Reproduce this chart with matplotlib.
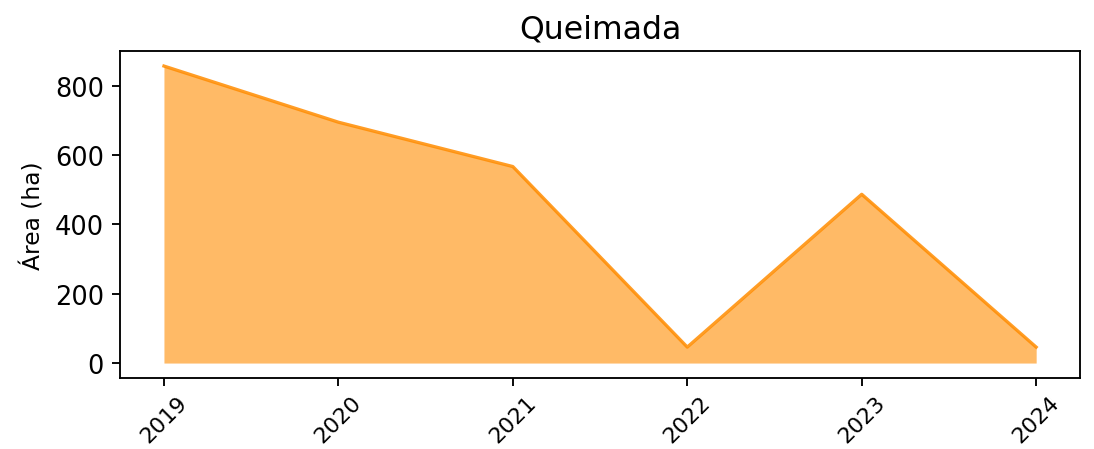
import matplotlib.pyplot as plt

# Burned area per year
anos = [2019, 2020, 2021, 2022, 2023, 2024]
area = [857, 695, 567, 46, 487, 46]

fig, ax = plt.subplots(figsize=(1094 / 168, 450 / 168), dpi=168)

ax.fill_between(anos, area, color='darkorange', alpha=0.6, linewidth=0)
ax.plot(anos, area, color='darkorange', alpha=0.85, linewidth=1.4)

ax.set_title('Queimada', fontsize=13.5)
ax.set_ylabel('Área (ha)', fontsize=10)
ax.set_xticks(anos)
ax.tick_params(axis='y', labelsize=11)
ax.tick_params(axis='x', labelsize=9.5, pad=2.5)
plt.xticks(rotation=45)

fig.subplots_adjust(left=0.11, right=0.987, top=0.884, bottom=0.158)
fig.savefig('out.png', dpi=168)
